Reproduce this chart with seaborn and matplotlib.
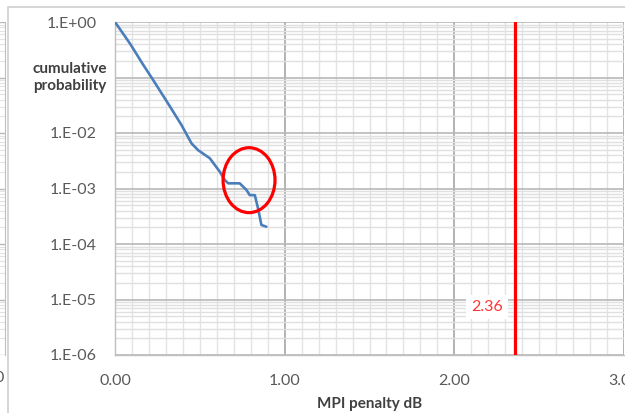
import numpy as np
import pandas as pd
import matplotlib
matplotlib.use("Agg")
import matplotlib.pyplot as plt
import matplotlib.ticker as mticker
from matplotlib.patches import Ellipse, Rectangle
import seaborn as sns

# data
penalty_db = [0.0, 0.088, 0.167, 0.225, 0.324, 0.392, 0.451, 0.49, 0.559, 0.618,
              0.647, 0.667, 0.735, 0.775, 0.794, 0.824, 0.843, 0.863, 0.892]
cum_prob = [1.0, 0.41, 0.168, 0.09, 0.030, 0.0139, 0.0065, 0.0049, 0.0035, 0.0020,
            0.00142, 0.00124, 0.00124, 0.00094, 0.00076, 0.00076, 0.00044, 0.00022, 0.000205]
limit_db = 2.36
limit_label = "2.36"

xticks = [0, 1, 2, 3]
xtick_labels = ["0.00", "1.00", "2.00", "3.00"]
yticks = [1e0, 1e-1, 1e-2, 1e-3, 1e-4, 1e-5, 1e-6]
ytick_labels = ["1.E+00", "", "1.E-02", "1.E-03", "1.E-04", "1.E-05", "1.E-06"]
ylabel = "cumulative\nprobability"
xlabel = "MPI penalty dB"

# highlighted region (ellipse) around the steps
circle_x, circle_y = 0.79, 10 ** -2.85

df = pd.DataFrame({"penalty": penalty_db, "prob": cum_prob})

sns.set_style("white")
plt.rcParams["font.family"] = ["Lato", "DejaVu Sans"]

W, H = 625, 413
fig = plt.figure(figsize=(W / 100, H / 100), dpi=100)
left, right, bottom, top = 115, 624, 355, 22
ax = fig.add_axes([left / W, 1 - bottom / H, (right - left) / W, (bottom - top) / H])

sns.lineplot(data=df, x="penalty", y="prob", ax=ax, color="#4a7ebb", lw=1.9,
             estimator=None, sort=False, zorder=4)
ax.axvline(limit_db, color="#ff0000", lw=2.3, zorder=5)

ax.set_yscale("log")
ax.set_xlim(0, 3)
ax.set_ylim(1e-6, 1)

ax.set_xticks(xticks, xtick_labels)
ax.set_yticks(yticks, ytick_labels)
ax.xaxis.set_minor_locator(mticker.MultipleLocator(0.1))
ax.yaxis.set_minor_locator(mticker.LogLocator(base=10, subs=np.arange(2, 10), numticks=20))
ax.yaxis.set_minor_formatter(mticker.NullFormatter())

ax.tick_params(which="major", axis="both", length=4, width=1, color="#bfbfbf",
               labelsize=11.5, labelcolor="#595959")
ax.tick_params(which="major", axis="y", pad=9)
ax.tick_params(which="major", axis="x", pad=10)
ax.tick_params(which="minor", length=0)

ax.xaxis.grid(True, which="major", color="#a6a6a6", lw=1.2)
ax.xaxis.grid(True, which="minor", color="#e3e3e3", lw=1.0)
ax.yaxis.grid(True, which="major", color="#b8b8b8", lw=1.2)
ax.yaxis.grid(True, which="minor", color="#e0e0e0", lw=1.0)
ax.set_axisbelow(True)

for s in ["top", "right"]:
    ax.spines[s].set_visible(False)
for s in ["left", "bottom"]:
    ax.spines[s].set_color("#bfbfbf")
    ax.spines[s].set_linewidth(1)

ax.set_xlabel(xlabel, fontsize=11, fontweight="bold", color="#404040", labelpad=6)
ax.set_ylabel("")
ax.text(-0.016, 1e-1, ylabel, transform=ax.get_yaxis_transform(), ha="right", va="center",
        multialignment="right", fontsize=11, fontweight="bold", color="#404040", linespacing=1.25)

# value label next to the red line
ax.annotate(limit_label, xy=(limit_db, 7.3e-6), xytext=(-9, 0), textcoords="offset points",
            ha="right", va="center", fontsize=11.5, color="#ff3333", zorder=6,
            bbox=dict(boxstyle="square,pad=0.3", fc="white", ec="none"))

# red ellipse around the step region
cx, cy = ax.transAxes.inverted().transform(ax.transData.transform((circle_x, circle_y)))
ax.add_patch(Ellipse((cx, cy), 0.102, 0.195, transform=ax.transAxes, fill=False,
                     ec="#ff0000", lw=2.3, zorder=6))

# chart frame and a sliver of the neighbouring chart on the left
fig.add_artist(Rectangle((8 / W, -0.1), 1.0, 1 - 7 / H + 0.1, transform=fig.transFigure,
                         fill=False, ec="#cfcfcf", lw=1.2))
ax2 = fig.add_axes([-0.05, 1 - bottom / H, 0.058, (bottom - top) / H])
ax2.set_yscale("log")
ax2.set_ylim(1e-6, 1)
ax2.yaxis.set_minor_locator(mticker.LogLocator(base=10, subs=np.arange(2, 10), numticks=20))
ax2.yaxis.grid(True, which="major", color="#b8b8b8", lw=1)
ax2.yaxis.grid(True, which="minor", color="#e3e3e3", lw=0.8)
ax2.tick_params(which="both", length=0, labelleft=False, labelbottom=False)
for s in ["top", "left", "bottom"]:
    ax2.spines[s].set_visible(False)
ax2.spines["right"].set_color("#bfbfbf")
fig.text(-0.002, 1 - 378 / H, "0", ha="center", va="center", fontsize=11.5, color="#595959")

fig.savefig("out.png", dpi=100)
